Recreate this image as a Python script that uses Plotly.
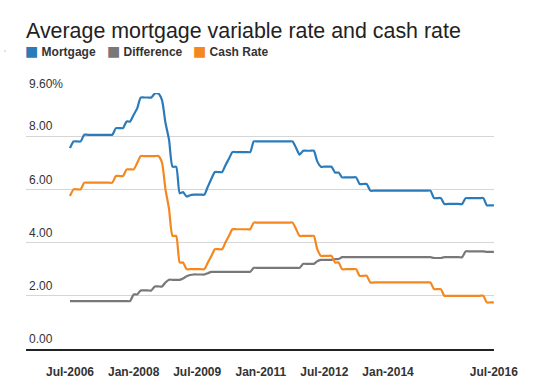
import pandas as pd
import plotly.graph_objects as go

# Monthly observations, Jul-2006 .. Jul-2016
months = pd.date_range("2006-07-01", "2016-07-01", freq="MS")

mortgage = [
    7.55, 7.80, 7.80, 7.80, 8.05, 8.05,                                   # 2006 Jul-Dec
    8.05, 8.05, 8.05, 8.05, 8.05, 8.05, 8.05, 8.30, 8.30, 8.30, 8.55, 8.55,  # 2007
    8.80, 9.05, 9.45, 9.45, 9.45, 9.45, 9.60, 9.60, 9.35, 8.50, 7.85, 6.85,  # 2008
    6.85, 5.85, 5.90, 5.73, 5.78, 5.80, 5.80, 5.80, 5.80, 6.10, 6.40, 6.65,  # 2009
    6.65, 6.65, 6.90, 7.15, 7.40, 7.40, 7.40, 7.40, 7.40, 7.40, 7.80, 7.80,  # 2010
    7.80, 7.80, 7.80, 7.80, 7.80, 7.80, 7.80, 7.80, 7.80, 7.80, 7.55, 7.30,  # 2011
    7.45, 7.45, 7.45, 7.45, 7.05, 6.85, 6.85, 6.85, 6.85, 6.63, 6.63, 6.45,  # 2012
    6.45, 6.45, 6.45, 6.45, 6.20, 6.20, 6.20, 5.95, 5.95, 5.95, 5.95, 5.95,  # 2013
    5.95, 5.95, 5.95, 5.95, 5.95, 5.95, 5.95, 5.95, 5.95, 5.95, 5.95, 5.95,  # 2014
    5.95, 5.67, 5.67, 5.67, 5.45, 5.45, 5.45, 5.45, 5.45, 5.45, 5.67, 5.67,  # 2015
    5.67, 5.67, 5.67, 5.67, 5.40, 5.40, 5.40,                             # 2016 Jan-Jul
]

difference = [
    1.80, 1.80, 1.80, 1.80, 1.80, 1.80,
    1.80, 1.80, 1.80, 1.80, 1.80, 1.80, 1.80, 1.80, 1.80, 1.80, 1.80, 1.80,
    2.05, 2.05, 2.20, 2.20, 2.20, 2.20, 2.35, 2.35, 2.35, 2.50, 2.60, 2.60,
    2.60, 2.60, 2.65, 2.73, 2.78, 2.80, 2.80, 2.80, 2.80, 2.85, 2.90, 2.90,
    2.90, 2.90, 2.90, 2.90, 2.90, 2.90, 2.90, 2.90, 2.90, 2.90, 3.05, 3.05,
    3.05, 3.05, 3.05, 3.05, 3.05, 3.05, 3.05, 3.05, 3.05, 3.05, 3.05, 3.05,
    3.20, 3.20, 3.20, 3.20, 3.30, 3.35, 3.35, 3.35, 3.35, 3.38, 3.38, 3.45,
    3.45, 3.45, 3.45, 3.45, 3.45, 3.45, 3.45, 3.45, 3.45, 3.45, 3.45, 3.45,
    3.45, 3.45, 3.45, 3.45, 3.45, 3.45, 3.45, 3.45, 3.45, 3.45, 3.45, 3.45,
    3.45, 3.42, 3.42, 3.42, 3.45, 3.45, 3.45, 3.45, 3.45, 3.45, 3.67, 3.67,
    3.67, 3.67, 3.67, 3.67, 3.65, 3.65, 3.65,
]

cash_rate = [
    5.75, 6.00, 6.00, 6.00, 6.25, 6.25,
    6.25, 6.25, 6.25, 6.25, 6.25, 6.25, 6.25, 6.50, 6.50, 6.50, 6.75, 6.75,
    6.75, 7.00, 7.25, 7.25, 7.25, 7.25, 7.25, 7.25, 7.00, 6.00, 5.25, 4.25,
    4.25, 3.25, 3.25, 3.00, 3.00, 3.00, 3.00, 3.00, 3.00, 3.25, 3.50, 3.75,
    3.75, 3.75, 4.00, 4.25, 4.50, 4.50, 4.50, 4.50, 4.50, 4.50, 4.75, 4.75,
    4.75, 4.75, 4.75, 4.75, 4.75, 4.75, 4.75, 4.75, 4.75, 4.75, 4.50, 4.25,
    4.25, 4.25, 4.25, 4.25, 3.75, 3.50, 3.50, 3.50, 3.50, 3.25, 3.25, 3.00,
    3.00, 3.00, 3.00, 3.00, 2.75, 2.75, 2.75, 2.50, 2.50, 2.50, 2.50, 2.50,
    2.50, 2.50, 2.50, 2.50, 2.50, 2.50, 2.50, 2.50, 2.50, 2.50, 2.50, 2.50,
    2.50, 2.25, 2.25, 2.25, 2.00, 2.00, 2.00, 2.00, 2.00, 2.00, 2.00, 2.00,
    2.00, 2.00, 2.00, 2.00, 1.75, 1.75, 1.75,
]

series_names = ["Mortgage", "Difference", "Cash Rate"]
series_colors = ["#2b7bba", "#787878", "#f5871f"]

x_tick_vals = ["2006-07-01", "2008-01-01", "2009-07-01", "2011-01-01",
               "2012-07-01", "2014-01-01", "2016-07-01"]
x_tick_text = ["Jul-2006", "Jan-2008", "Jul-2009", "Jan-2011",
               "Jul-2012", "Jan-2014", "Jul-2016"]
y_tick_vals = [0, 2, 4, 6, 8, 9.6]
y_tick_text = ["0.00", "2.00", "4.00", "6.00", "8.00", "9.60%"]

FONT = "Liberation Sans, Arial, Helvetica, sans-serif"
W, H = 559, 392
L, R, T, B = 26, 65, 93, 43

# one single-entry legend per series; swatch drawn as a coloured square glyph
legend_ids = ["legend", "legend2", "legend3"]
legend_left_px = [-15, 67, 153]

fig = go.Figure()
for name, vals, col, lid in zip(series_names, [mortgage, difference, cash_rate],
                                series_colors, legend_ids):
    fig.add_trace(go.Scatter(
        x=months, y=vals, mode="lines", name=name, showlegend=False,
        line=dict(color=col, width=2.2, shape="spline", smoothing=0.6),
        hoverinfo="skip",
    ))
    fig.add_trace(go.Scatter(
        x=[None], y=[None], mode="markers", legend=lid,
        name=(f"<span style='color:{col};font-family:DejaVu Sans;"
              f"font-size:14px;font-weight:normal'>\u25A0</span> {name}"),
        marker=dict(symbol="square", size=1, color=col, opacity=0),
    ))

legend_common = dict(
    orientation="h",
    xref="paper", yref="container", xanchor="left",
    y=1 - 51 / H, yanchor="middle",
    font=dict(family=FONT, size=12, color="#333333", weight="bold"),
    bgcolor="rgba(0,0,0,0)",
    itemclick=False, itemdoubleclick=False,
)
plot_w = W - L - R
legend_layout = {lid: dict(legend_common, x=(px - L) / plot_w)
                 for lid, px in zip(legend_ids, legend_left_px)}

fig.update_layout(
    width=W, height=H,
    margin=dict(l=L, r=R, t=T, b=B, autoexpand=False),
    paper_bgcolor="white", plot_bgcolor="white",
    font=dict(family=FONT, color="#333333", size=12),
    title=dict(
        text="Average mortgage variable rate and cash rate",
        font=dict(family=FONT, size=21.4, color="#222222"),
        x=26 / W, xref="container", xanchor="left",
        y=1 - 31 / H, yref="container", yanchor="middle",
    ),
    xaxis=dict(
        type="date",
        range=["2005-06-17", "2016-07-02"],
        tickvals=x_tick_vals, ticktext=x_tick_text,
        showgrid=False, zeroline=False,
        showline=True, linecolor="#222222", linewidth=1.5,
        ticks="", ticklabelstandoff=11,
        tickfont=dict(family=FONT, size=12, color="#333333", weight="bold"),
        fixedrange=True,
    ),
    yaxis=dict(
        range=[0, 9.62],
        tickvals=y_tick_vals, ticktext=y_tick_text,
        showgrid=True, gridcolor="#d6d6d6", gridwidth=1,
        zeroline=False, showline=False, ticks="",
        ticklabelposition="inside", ticklabelshift=-10, ticklabelstandoff=0,
        ticklabeloverflow="allow",
        tickfont=dict(family=FONT, size=12, color="#333333"),
        fixedrange=True,
    ),
    showlegend=True,
    **legend_layout,
)

fig.write_html(
    "out.html",
    config={"displayModeBar": False},
    post_script="document.body.style.margin='0';document.body.style.padding='0';",
)
